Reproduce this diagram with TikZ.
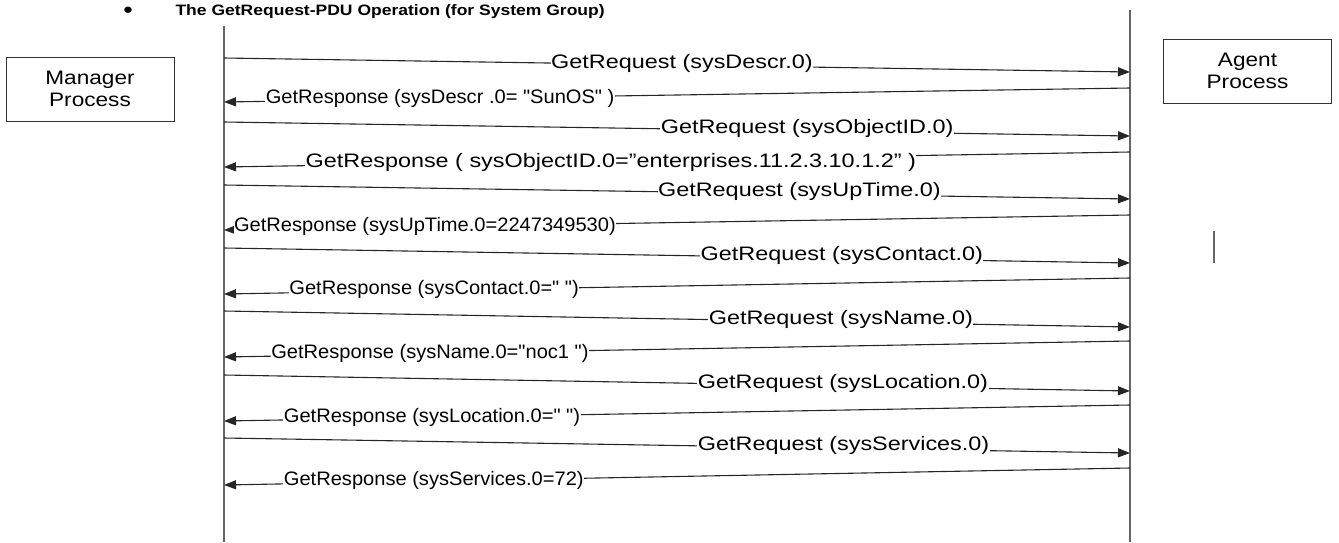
\documentclass[tikz,border=0pt]{standalone}
\usepackage{fontspec}
\setmainfont[FakeStretch=1.16, Ligatures=TeXOff]{Liberation Sans}
\newfontfamily\reqfont[FakeStretch=1.2, Ligatures=TeXOff]{Liberation Sans}
\newfontfamily\rspfont[FakeStretch=1.03, Ligatures=TeXOff]{Liberation Sans}
\usepackage{tikz}
\usetikzlibrary{arrows.meta, positioning}

\begin{document}
\begin{tikzpicture}[
  x=1pt, y=-1pt,
  >={Triangle[length=12pt, width=9pt]},
  every node/.style={font=\fontsize{19.5}{21.5}\selectfont},
  proc/.style={rectangle, draw=black!80, line width=0.9pt, minimum width=168pt, minimum height=64pt, align=center, inner sep=2pt},
  life/.style={draw=black!60, line width=1.4pt},
  msg/.style={->, draw=black!85, line width=1.1pt},
  lbl/.style={anchor=west, fill=white, inner xsep=0.5pt, inner ysep=0pt},
  reqlbl/.style={lbl, font=\fontsize{19.5}{21.5}\reqfont},
  rsplbl/.style={lbl, yshift=3pt, font=\fontsize{19.5}{21.5}\rspfont},
  hdr/.style={anchor=base west, font=\fontsize{15.1}{17}\selectfont\bfseries}
]
\useasboundingbox (0,0) rectangle (1339,542);

% Title
\node[anchor=base, font=\fontsize{22}{22}\selectfont\bfseries] (bullet) at (128,17) {•};
\node[hdr] (title) at (172,15) {The GetRequest-PDU Operation (for System Group)};

% Processes
\node[proc] (manager) at (90,89) {Manager\\Process};
\node[proc] (agent) at (1247.5,71) {Agent\\Process};

% Lifelines
\coordinate (mtop) at (224,26);  \coordinate (mbot) at (224,542);
\coordinate (atop) at (1130,10); \coordinate (abot) at (1130,542);
\draw[life] (mtop) -- (mbot);
\draw[life] (atop) -- (abot);
\coordinate (marktop) at (1214,231); \coordinate (markbot) at (1214,263);
\draw[life] (marktop) -- (markbot);

% Request / response end points
\coordinate (m1) at (224,58);  \coordinate (a1) at (1130,72);
\coordinate (a2) at (1130,88); \coordinate (m2) at (224,102);
\coordinate (m3) at (224,122); \coordinate (a3) at (1130,136);
\coordinate (a4) at (1130,152); \coordinate (m4) at (224,167);
\coordinate (m5) at (224,185); \coordinate (a5) at (1130,199);
\coordinate (a6) at (1130,215); \coordinate (m6) at (224,230);
\coordinate (m7) at (224,248); \coordinate (a7) at (1130,263);
\coordinate (a8) at (1130,278); \coordinate (m8) at (224,294);
\coordinate (m9) at (224,311); \coordinate (a9) at (1130,327);
\coordinate (a10) at (1130,341); \coordinate (m10) at (224,357);
\coordinate (m11) at (224,375); \coordinate (a11) at (1130,391);
\coordinate (a12) at (1130,405); \coordinate (m12) at (224,421);
\coordinate (m13) at (224,438); \coordinate (a13) at (1130,453);
\coordinate (a14) at (1130,468); \coordinate (m14) at (224,485);

% Messages
\draw[msg] (m1) -- node[reqlbl, pos=0.360] (req1) {GetRequest (sysDescr.0)} (a1);
\draw[msg] (a2) -- node[rsplbl, pos=0.955] (rsp1) {GetResponse (sysDescr .0= "SunOS" )} (m2);
\draw[msg] (m3) -- node[reqlbl, pos=0.481] (req2) {GetRequest (sysObjectID.0)} (a3);
\draw[msg] (a4) -- node[reqlbl, yshift=3pt, pos=0.911] (rsp2) {GetResponse ( sysObjectID.0=”enterprises.11.2.3.10.1.2” )} (m4);
\draw[msg] (m5) -- node[reqlbl, pos=0.478] (req3) {GetRequest (sysUpTime.0)} (a5);
\draw[msg] (a6) -- node[rsplbl, pos=0.990] (rsp3) {GetResponse (sysUpTime.0=2247349530)} (m6);
\draw[msg] (m7) -- node[reqlbl, pos=0.525] (req4) {GetRequest (sysContact.0)} (a7);
\draw[msg] (a8) -- node[rsplbl, pos=0.929] (rsp4) {GetResponse (sysContact.0=" ")} (m8);
\draw[msg] (m9) -- node[reqlbl, pos=0.534] (req5) {GetRequest (sysName.0)} (a9);
\draw[msg] (a10) -- node[rsplbl, pos=0.949] (rsp5) {GetResponse (sysName.0="noc1 ")} (m10);
\draw[msg] (m11) -- node[reqlbl, pos=0.522] (req6) {GetRequest (sysLocation.0)} (a11);
\draw[msg] (a12) -- node[rsplbl, pos=0.935] (rsp6) {GetResponse (sysLocation.0=" ")} (m12);
\draw[msg] (m13) -- node[reqlbl, pos=0.522] (req7) {GetRequest (sysServices.0)} (a13);
\draw[msg] (a14) -- node[rsplbl, pos=0.935] (rsp7) {GetResponse (sysServices.0=72)} (m14);

\end{tikzpicture}
\end{document}
